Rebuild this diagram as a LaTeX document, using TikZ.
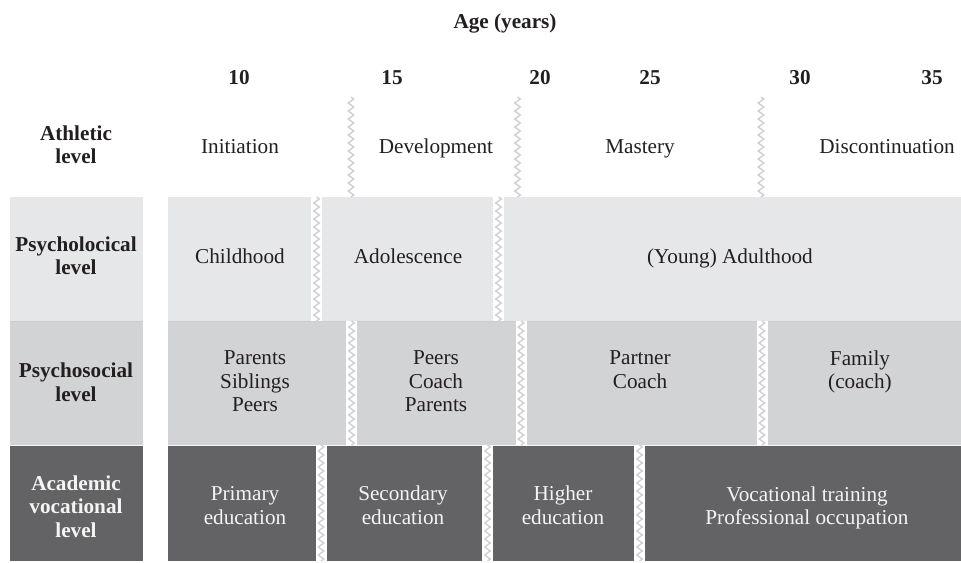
\documentclass[tikz,border=0pt]{standalone}
\usepackage{fontspec}
\setmainfont{Liberation Serif}
\usetikzlibrary{decorations.pathmorphing}
\definecolor{psyc}{HTML}{E6E7E9}
\definecolor{socc}{HTML}{D2D3D5}
\definecolor{acac}{HTML}{636365}
\definecolor{txtc}{HTML}{231F20}
\definecolor{ltxt}{HTML}{F4F4F4}
\definecolor{zigc}{HTML}{D0D0D2}
\newcommand\mysep[3]{%
  \fill[white] ({#1-5.5},#2) rectangle ({#1+5.5},#3);
  \draw[zigline] (#1,#2) -- (#1,#3);}
\begin{document}
\begin{tikzpicture}[x=0.5pt,y=-0.5pt,
  every node/.style={font=\fontsize{10.6}{11.75}\selectfont, align=center, text=txtc, inner sep=0pt,
    execute at begin node={\strut}, execute at end node={\strut}},
  lab/.style={font=\fontsize{10.6}{11.75}\selectfont\bfseries},
  dk/.style={text=ltxt},
  zigline/.style={draw=zigc, line width=0.7pt, decorate,
    decoration={zigzag, segment length=4pt, amplitude=1.4pt}}]
\useasboundingbox (0,0) rectangle (961,562);
% row backgrounds
\fill[psyc] (10,197) rectangle (143,321);
\fill[socc] (10,321) rectangle (143,445);
\fill[acac] (10,445) rectangle (143,561);
\fill[psyc] (168,197) rectangle (961,321);
\fill[socc] (168,321) rectangle (961,445);
\fill[acac] (168,445) rectangle (961,561);
\draw[white!80!socc, line width=0.4pt] (10,445) -- (143,445) (168,445) -- (961,445);
\draw[black!20, line width=0.3pt] (10,321) -- (143,321) (168,321) -- (961,321);
% separators
\mysep{351}{97}{197}
\mysep{517.5}{97}{197}
\mysep{761}{97}{197}
\mysep{316.5}{197}{321}
\mysep{498.5}{197}{321}
\mysep{351.5}{321}{445}
\mysep{521}{321}{445}
\mysep{762}{321}{445}
\mysep{321}{445}{561}
\mysep{487.5}{445}{561}
\mysep{639.5}{445}{561}
% header
\node[lab] (age) at (505,24) {Age (years)};
\node[lab] (a10) at (239,80) {10};
\node[lab] (a15) at (392,80) {15};
\node[lab] (a20) at (540,80) {20};
\node[lab] (a25) at (650,80) {25};
\node[lab] (a30) at (800,80) {30};
\node[lab] (a35) at (932,80) {35};
% left labels
\node[lab] (lath) at (76,148) {Athletic\\level};
\node[lab] (lpsy) at (76,259) {Psycholocical\\level};
\node[lab] (lsoc) at (76,385.5) {Psychosocial\\level};
\node[lab,dk] (laca) at (76,510) {Academic\\vocational\\level};
% athletic
\node (ini) at (240,148.5) {Initiation};
\node (dev) at (436,148.5) {Development};
\node (mas) at (640,148.5) {Mastery};
\node (dis) at (887,148.5) {Discontinuation};
% psychological
\node (chi) at (240,259) {Childhood};
\node (ado) at (408,259) {Adolescence};
\node (adu) at (730,259) {(Young) Adulthood};
% psychosocial
\node (s1) at (255,385) {Parents\\Siblings\\Peers};
\node (s2) at (436,385) {Peers\\Coach\\Parents};
\node (s3) at (640,373) {Partner\\Coach};
\node (s4) at (860,373) {Family\\(coach)};
% academic
\node[dk] (e1) at (245,509) {Primary\\education};
\node[dk] (e2) at (403,508.5) {Secondary\\education};
\node[dk] (e3) at (563,508.5) {Higher\\education};
\node[dk] (e4) at (807,509) {Vocational training\\Professional occupation};
\end{tikzpicture}
\end{document}
